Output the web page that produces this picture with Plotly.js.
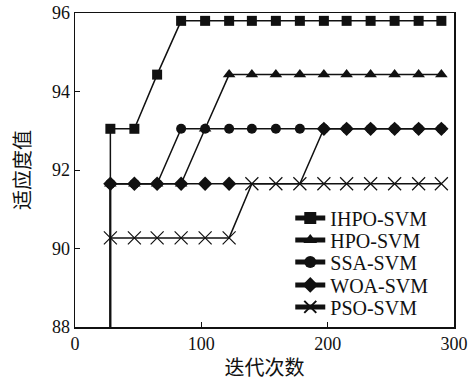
<!DOCTYPE html>
<html>
<head>
<meta charset="utf-8">
<script src="https://cdn.plot.ly/plotly-3.0.1.min.js"></script>
<style>html,body{margin:0;padding:0;background:#fff;}#chart{width:469px;height:385px;}</style>
</head>
<body>
<div id="chart"></div>
<script>
// Iterations at which markers are drawn
const iterations = [28, 47, 65, 84, 103, 122, 140, 159, 178, 197, 215, 234, 253, 272, 290];
// Fitness before the first recorded iteration (below the axis range)
const startFitness = 80;
const seriesNames = ["IHPO-SVM", "HPO-SVM", "SSA-SVM", "WOA-SVM", "PSO-SVM"];
const ihpoFitness = [93.05, 93.05, 94.43, 95.8, 95.8, 95.8, 95.8, 95.8, 95.8, 95.8, 95.8, 95.8, 95.8, 95.8, 95.8];
const hpoFitness  = [91.65, 91.65, 91.65, 91.65, 93.05, 94.43, 94.43, 94.43, 94.43, 94.43, 94.43, 94.43, 94.43, 94.43, 94.43];
const ssaFitness  = [91.65, 91.65, 91.65, 93.05, 93.05, 93.05, 93.05, 93.05, 93.05, 93.05, 93.05, 93.05, 93.05, 93.05, 93.05];
const woaFitness  = [91.65, 91.65, 91.65, 91.65, 91.65, 91.65, 91.65, 91.65, 91.65, 93.05, 93.05, 93.05, 93.05, 93.05, 93.05];
const psoFitness  = [90.27, 90.27, 90.27, 90.27, 90.27, 90.27, 91.65, 91.65, 91.65, 91.65, 91.65, 91.65, 91.65, 91.65, 91.65];
const xTicks = [0, 100, 200, 300];
const yTicks = [88, 90, 92, 94, 96];

const serif = "'Liberation Serif', 'Times New Roman', serif";
const cjk = "'Noto Sans CJK SC', sans-serif";

const allFitness = [ihpoFitness, hpoFitness, ssaFitness, woaFitness, psoFitness];
const symbols = ["square", "triangle-up", "circle", "diamond", "x-thin-open"];
const sizes = [10, 11, 10, 11, 13];
const legendNames = ["legend", "legend2", "legend3", "legend4", "legend5"];
// legend row centres, in plot-area fractions
const legendRows = [0.347, 0.277, 0.207, 0.134, 0.064];

const traces = allFitness.map((vals, i) => {
  // WOA markers that coincide with PSO markers are hidden behind the crosses in the original
  const sz = vals.map((v, k) => (i === 3 && v === psoFitness[k]) ? 0 : sizes[i]);
  return {
    type: "scatter",
    mode: "lines+markers",
    name: seriesNames[i],
    legend: legendNames[i],
    x: [iterations[0]].concat(iterations),
    y: [startFitness].concat(vals),
    line: {color: "#111", width: 1.5},
    marker: {
      symbol: symbols[i],
      size: [sizes[i]].concat(sz),
      opacity: 1,
      color: "#111",
      line: {color: "#111", width: i === 4 ? 1.2 : 0}
    },
    cliponaxis: true
  };
});

const layout = {
  width: 469,
  height: 385,
  margin: {l: 75, r: 15, t: 13, b: 58},
  paper_bgcolor: "#fff",
  plot_bgcolor: "#fff",
  showlegend: true,
  xaxis: {
    range: [0, 300],
    tickvals: xTicks,
    ticktext: xTicks.map(String),
    ticks: "inside",
    ticklen: 5,
    tickcolor: "#111",
    showline: true,
    linecolor: "#111",
    linewidth: 1.5,
    mirror: true,
    showgrid: false,
    zeroline: false,
    tickfont: {family: serif, size: 18, color: "#111"},
    title: {text: "迭代次数", font: {family: cjk, size: 20, color: "#111"}, standoff: 8}
  },
  yaxis: {
    range: [88, 96],
    tickvals: yTicks,
    ticktext: yTicks.map(String),
    ticks: "inside",
    ticklen: 5,
    tickcolor: "#111",
    showline: true,
    linecolor: "#111",
    linewidth: 1.5,
    mirror: true,
    showgrid: false,
    zeroline: false,
    tickfont: {family: serif, size: 18, color: "#111"},
    title: {text: "适应度值", font: {family: cjk, size: 20, color: "#111"}, standoff: 16}
  }
};

legendNames.forEach((nm, i) => {
  layout[nm] = {
    x: 0.568, y: legendRows[i], xanchor: "left", yanchor: "middle",
    font: {family: serif, size: 20, color: "#111"},
    bgcolor: "rgba(0,0,0,0)",
    itemwidth: 30,
    itemsizing: "constant"
  };
});

Plotly.newPlot("chart", traces, layout, {displayModeBar: false, staticPlot: true});
</script>
</body>
</html>
